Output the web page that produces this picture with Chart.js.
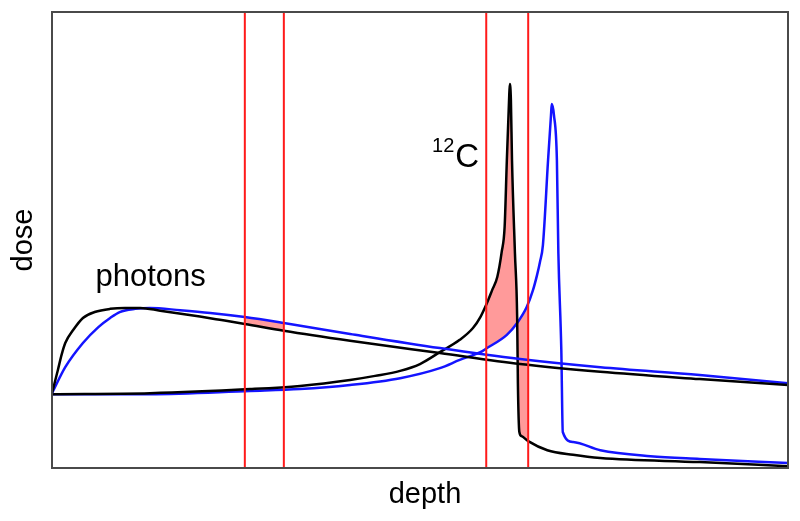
<!DOCTYPE html>
<html>
<head>
<meta charset="utf-8">
<script src="https://cdn.jsdelivr.net/npm/chart.js@4/dist/chart.umd.min.js"></script>
<style>
  body { margin: 0; background: #fff; }
  #wrap { width: 800px; height: 521px; }
</style>
</head>
<body>
<div id="wrap"><canvas id="doseChart"></canvas></div>
<script>
// depth / dose in arbitrary units (0..100)
var photonsBlack = [[0,16.4],[0.8,21.5],[1.3,24.8],[1.8,27.4],[2.9,30.3],[4.2,32.9],[5.8,34.2],[7.9,34.9],
  [9.9,35.1],[12.0,35.1],[14.7,34.5],[20.1,33.2],[22.8,32.5],[26.2,31.6],[31.5,30.1],[40.5,27.9],
  [52.7,25.2],[63.6,22.8],[74.5,21.1],[88.0,19.5],[100,18.2]];
var photonsBlue = [[0,16.4],[1.8,22.1],[4.2,27.4],[6.3,30.9],[7.9,32.9],[9.2,34.2],[11.3,34.9],[13.3,35.1],
  [17.4,34.6],[21.5,34.0],[26.2,33.1],[31.5,31.8],[40.5,29.4],[52.7,26.3],[63.6,23.9],[74.5,22.1],
  [88.0,20.4],[100,18.6]];
var carbonBlack = [[0,16.2],[13.3,16.4],[26.9,17.3],[33.7,18.0],[40.5,19.3],[43.9,20.2],[47.3,21.3],
  [50.0,22.8],[52.7,25.4],[55.4,28.1],[57.2,30.7],[58.2,33.1],[59.1,36.2],[59.8,39.0],[60.5,41.9],
  [61.1,47.4],[61.5,52.9],[61.8,67.5],[62.1,80.7],[62.2,84.2],[62.35,80.7],[62.5,67.5],[62.9,47.1],
  [63.2,33.1],[63.3,18.6],[63.5,7.9],[63.8,7.0],[64.7,5.9],[67.3,3.9],[70.8,2.9],[74.5,2.2],
  [88.0,1.3],[100,0.4]];
var carbonBlue = [[0,16.2],[13.3,16.2],[26.9,16.9],[33.7,17.3],[40.5,18.2],[47.3,19.7],[52.7,21.9],
  [55.4,23.7],[58.2,25.4],[59.1,26.3],[61.8,29.2],[63.2,31.8],[64.5,35.3],[65.35,39.0],[65.9,42.3],
  [66.3,45.2],[66.7,48.9],[67.4,67.5],[67.8,77.4],[67.9,79.8],[68.2,77.4],[68.6,67.5],[68.8,47.1],
  [69.2,25.9],[69.4,7.9],[70.8,5.7],[74.5,3.9],[81.3,2.6],[88.0,2.0],[100,1.1]];
var redLines = [26.2, 31.5, 59.0, 64.7];
var annotations = [
  { text: 'photons', x: 5.9, y: 39.9, size: 31 },
  { text: 'C', sup: '12', x: 54.8, y: 66.0, size: 33 }
];

var fontFamily = '"Liberation Sans", Arial, Helvetica, sans-serif';

function toPoints(arr) {
  return arr.map(function (p) { return { x: p[0], y: p[1] }; });
}

var datasets = [
  { label: 'photons (black)', data: toPoints(photonsBlack), borderColor: '#000', order: 1 },
  { label: 'photons (blue)', data: toPoints(photonsBlue), borderColor: '#1414ff', order: 1 },
  { label: '12C (black)', data: toPoints(carbonBlack), borderColor: '#000', order: 1 },
  { label: '12C (blue)', data: toPoints(carbonBlue), borderColor: '#1414ff', order: 1 }
];
datasets.forEach(function (d) {
  d.cubicInterpolationMode = 'monotone';
  d.borderWidth = 2.5;
});
redLines.forEach(function (v) {
  datasets.push({ label: 'window', data: [{ x: v, y: 0 }, { x: v, y: 100 }], borderColor: '#ff1a1a', borderWidth: 2, order: 0 });
});
datasets.forEach(function (d) {
  d.pointRadius = 0;
  d.fill = false;
});

// shaded areas: between two curves, only inside a pair of red lines
var shades = [
  { a: 0, b: 1, min: redLines[0], max: redLines[1] },
  { a: 2, b: 3, min: redLines[2], max: redLines[3] }
];

function traceForward(ctx, p) {
  ctx.moveTo(p[0].x, p[0].y);
  for (var i = 1; i < p.length; i++) {
    if (p[i - 1].cp2x === undefined) ctx.lineTo(p[i].x, p[i].y);
    else ctx.bezierCurveTo(p[i - 1].cp2x, p[i - 1].cp2y, p[i].cp1x, p[i].cp1y, p[i].x, p[i].y);
  }
}

function traceBackward(ctx, p) {
  var n = p.length - 1;
  ctx.lineTo(p[n].x, p[n].y);
  for (var i = n; i > 0; i--) {
    if (p[i].cp1x === undefined) ctx.lineTo(p[i - 1].x, p[i - 1].y);
    else ctx.bezierCurveTo(p[i].cp1x, p[i].cp1y, p[i - 1].cp2x, p[i - 1].cp2y, p[i - 1].x, p[i - 1].y);
  }
}

var shadePlugin = {
  id: 'shade',
  beforeDatasetsDraw: function (chart) {
    var ctx = chart.ctx, xs = chart.scales.x, area = chart.chartArea;
    shades.forEach(function (s) {
      var a = chart.getDatasetMeta(s.a).data, b = chart.getDatasetMeta(s.b).data;
      var x0 = xs.getPixelForValue(s.min), x1 = xs.getPixelForValue(s.max);
      ctx.save();
      ctx.beginPath();
      ctx.rect(x0, area.top, x1 - x0, area.bottom - area.top);
      ctx.clip();
      ctx.beginPath();
      traceForward(ctx, a);
      traceBackward(ctx, b);
      ctx.closePath();
      ctx.fillStyle = '#ff9a9a';
      ctx.fill();
      ctx.restore();
    });
  }
};

var framePlugin = {
  id: 'frame',
  afterDraw: function (chart) {
    var ctx = chart.ctx, area = chart.chartArea, xs = chart.scales.x, ys = chart.scales.y;
    ctx.save();
    ctx.strokeStyle = '#4a4a4a';
    ctx.lineWidth = 2;
    ctx.strokeRect(area.left, area.top, area.right - area.left, area.bottom - area.top);

    ctx.fillStyle = '#000';
    ctx.textBaseline = 'alphabetic';
    // axis titles
    ctx.font = '29px ' + fontFamily;
    ctx.textAlign = 'center';
    ctx.fillText('depth', (area.left + area.right) / 2 + 5, area.bottom + 35);
    ctx.save();
    ctx.translate(area.left - 20, 240);
    ctx.rotate(-Math.PI / 2);
    ctx.fillText('dose', 0, 0);
    ctx.restore();

    // labels inside the plot
    ctx.textAlign = 'left';
    annotations.forEach(function (an) {
      var px = xs.getPixelForValue(an.x), py = ys.getPixelForValue(an.y);
      ctx.font = an.size + 'px ' + fontFamily;
      ctx.fillText(an.text, px, py);
      if (an.sup) {
        ctx.font = Math.round(an.size * 0.62) + 'px ' + fontFamily;
        var w = ctx.measureText(an.sup).width;
        ctx.fillText(an.sup, px - w - 1, py - an.size * 0.45);
      }
    });
    ctx.restore();
  }
};

var ctx = document.getElementById('doseChart').getContext('2d');
var doseChart = new Chart(ctx, {
  type: 'line',
  data: { datasets: datasets },
  options: {
    responsive: true,
    maintainAspectRatio: false,
    animation: false,
    layout: { padding: { left: 52, right: 12, top: 12, bottom: 53 } },
    scales: {
      x: { type: 'linear', min: 0, max: 100, display: false },
      y: { type: 'linear', min: 0, max: 100, display: false }
    },
    plugins: {
      legend: { display: false },
      tooltip: { enabled: false }
    }
  },
  plugins: [shadePlugin, framePlugin]
});
</script>
</body>
</html>
